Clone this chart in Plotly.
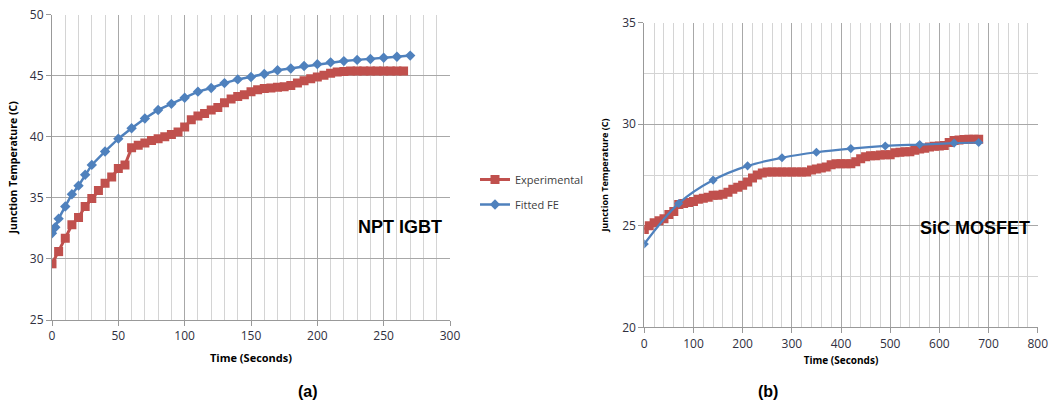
import plotly.graph_objects as go

# ---- Data: (a) NPT IGBT ----
igbt_exp_t = list(range(0, 270, 5))
igbt_exp_T = [29.6, 30.6, 31.7, 32.8, 33.4, 34.3, 34.95, 35.6, 36.2, 36.7,
              37.4, 37.7, 39.1, 39.3, 39.5, 39.7, 39.85, 40.0, 40.2, 40.4,
              40.8, 41.4, 41.7, 41.9, 42.2, 42.4, 42.8, 43.1, 43.3, 43.45,
              43.7, 43.85, 43.95, 44.0, 44.05, 44.1, 44.2, 44.4, 44.6, 44.75,
              44.9, 45.05, 45.2, 45.3, 45.35, 45.38, 45.38, 45.38, 45.38, 45.38,
              45.38, 45.38, 45.38, 45.38]
igbt_fit_t = [0, 2.5, 5, 10, 15, 20, 25, 30, 40, 50, 60, 70, 80, 90, 100, 110, 120,
              130, 140, 150, 160, 170, 180, 190, 200, 210, 220, 230, 240, 250, 260, 270]
igbt_fit_T = [32.1, 32.6, 33.3, 34.3, 35.3, 36.0, 36.9, 37.7, 38.8, 39.85, 40.7, 41.5,
              42.2, 42.7, 43.2, 43.7, 44.0, 44.4, 44.7, 44.9, 45.14, 45.45, 45.6, 45.8,
              45.95, 46.1, 46.2, 46.3, 46.37, 46.48, 46.56, 46.65]

# ---- Data: (b) SiC MOSFET ----
sic_exp_t = list(range(0, 690, 10))
sic_exp_T = [24.82, 25.0, 25.15, 25.25, 25.35, 25.55, 25.7, 26.05, 26.1, 26.15,
             26.2, 26.3, 26.35, 26.4, 26.5, 26.5, 26.55, 26.65, 26.8, 26.9,
             27.0, 27.15, 27.35, 27.5, 27.6, 27.65, 27.65, 27.65, 27.65, 27.65,
             27.65, 27.65, 27.65, 27.65, 27.75, 27.8, 27.85, 27.9, 28.0, 28.05,
             28.05, 28.05, 28.05, 28.15, 28.3, 28.4, 28.45, 28.45, 28.48, 28.5,
             28.5, 28.6, 28.62, 28.65, 28.65, 28.72, 28.78, 28.82, 28.88, 28.92,
             28.93, 28.95, 29.1, 29.2, 29.22, 29.25, 29.26, 29.26, 29.26]
sic_fit_t = [0, 70, 140, 210, 280, 350, 420, 490, 560, 630, 680]
sic_fit_T = [24.1, 26.1, 27.25, 27.95, 28.35, 28.62, 28.8, 28.93, 29.0, 29.07, 29.1]

RED = "#C0504D"
BLUE = "#4F81BD"

fig = go.Figure()
fig.add_trace(go.Scatter(x=igbt_exp_t, y=igbt_exp_T, mode="lines+markers", name="Experimental",
                         legendgroup="e", line=dict(color=RED, width=3),
                         marker=dict(symbol="square", size=9, color=RED), xaxis="x", yaxis="y"))
fig.add_trace(go.Scatter(x=igbt_fit_t, y=igbt_fit_T, mode="lines+markers", name="Fitted FE",
                         legendgroup="f", line=dict(color=BLUE, width=2.5),
                         marker=dict(symbol="diamond", size=8, color=BLUE), xaxis="x", yaxis="y"))
fig.add_trace(go.Scatter(x=sic_exp_t, y=sic_exp_T, mode="lines+markers", name="Experimental",
                         showlegend=False, line=dict(color=RED, width=3),
                         marker=dict(symbol="square", size=9, color=RED), xaxis="x2", yaxis="y2"))
fig.add_trace(go.Scatter(x=sic_fit_t, y=sic_fit_T, mode="lines+markers", name="Fitted FE",
                         showlegend=False, line=dict(color=BLUE, width=2.2, shape="spline"),
                         marker=dict(symbol="diamond", size=7, color=BLUE), xaxis="x2", yaxis="y2"))

W, H = 1049, 405
tickfont = dict(family="Open Sans", size=12, color="#303040")
titlefont = dict(family="Open Sans", size=11, color="#000000", weight="bold")
grid = "#a8a8a8"
minor = "#d4d4d4"

common = dict(showline=True, linecolor="#999999", linewidth=1, ticks="outside", ticklen=5,
              tickcolor="#999999", showgrid=True, gridcolor=grid, gridwidth=1,
              tickfont=tickfont, zeroline=False, automargin=False)


def label(text, x, y, size):
    return dict(text=f"<b>{text}</b>", x=x / W, y=1 - y / H, xref="paper", yref="paper",
                xanchor="center", yanchor="middle", showarrow=False,
                font=dict(family="Liberation Sans", size=size, color="black"))


fig.update_layout(
    width=W, height=H, margin=dict(l=0, r=0, t=0, b=0),
    paper_bgcolor="white", plot_bgcolor="white",
    showlegend=True,
    legend=dict(x=475 / W, y=1 - 165 / H, xanchor="left", yanchor="top",
                font=dict(family="Open Sans", size=11, color="#404040"),
                traceorder="grouped", tracegroupgap=6, bgcolor="rgba(0,0,0,0)"),
    xaxis=dict(domain=[52 / W, 450 / W], range=[0, 300], dtick=50,
               minor=dict(dtick=10, showgrid=True, gridcolor=minor, ticks=""),
               title=dict(text="Time (Seconds)", font=titlefont, standoff=10),
               anchor="y", **common),
    yaxis=dict(domain=[1 - 320 / H, 1 - 14.7 / H], range=[25, 50], dtick=5,
               title=dict(text="Junction Temperature (C)", font=dict(titlefont, size=10.5), standoff=10),
               anchor="x", **common),
    xaxis2=dict(domain=[644.3 / W, 1037.7 / W], range=[0, 800], dtick=100,
                minor=dict(dtick=20, showgrid=True, gridcolor=minor, ticks=""),
                title=dict(text="Time (Seconds)", font=dict(titlefont, size=10), standoff=6),
                anchor="y2", **common),
    yaxis2=dict(domain=[1 - 327.3 / H, 1 - 22.7 / H], range=[20, 35], dtick=5,
                minor=dict(dtick=2.5, showgrid=True, gridcolor=minor, ticks=""),
                title=dict(text="Junction Temperature (C)", font=dict(titlefont, size=9), standoff=12),
                anchor="x2", **common),
    annotations=[
        label("NPT IGBT", 400, 227, 18),
        label("SiC MOSFET", 975, 228, 18),
        label("(a)", 308, 391, 16),
        label("(b)", 768, 391, 16),
    ],
)

fig.write_html("out.html", config={"displayModeBar": False},
               post_script="document.body.style.margin='0';document.body.style.overflow='hidden';")
